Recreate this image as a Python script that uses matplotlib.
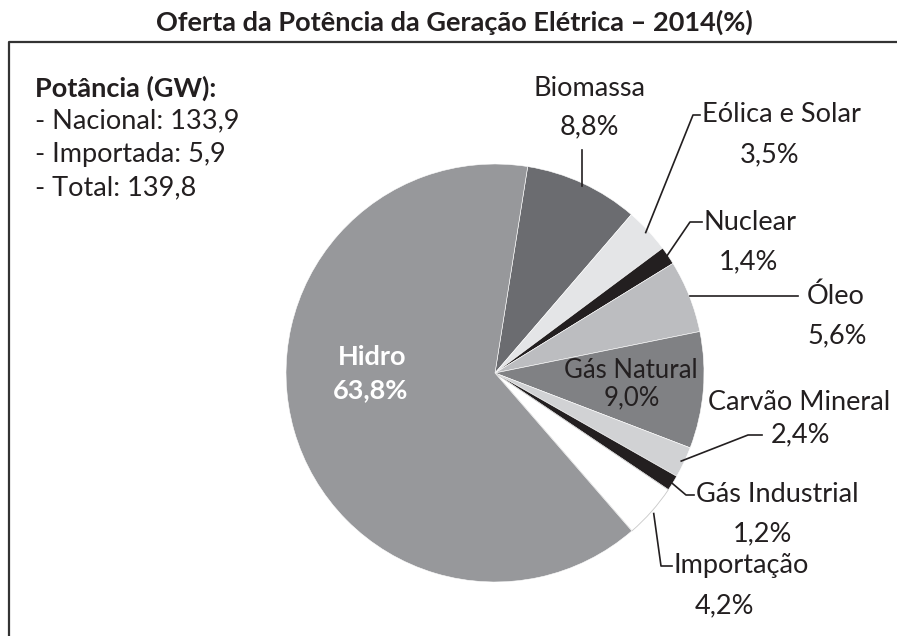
import matplotlib.pyplot as plt
import numpy as np

# data (percent of generation capacity, 2014)
fontes = ["Biomassa", "Eólica e Solar", "Nuclear", "Óleo", "Gás Natural",
          "Carvão Mineral", "Gás Industrial", "Importação", "Hidro"]
valores = [8.8, 3.5, 1.4, 5.6, 9.0, 2.4, 1.2, 4.2, 63.8]
rotulos = ["8,8%", "3,5%", "1,4%", "5,6%", "9,0%", "2,4%", "1,2%", "4,2%", "63,8%"]
cores = ["#6b6c70", "#e4e5e7", "#231f20", "#bcbdc0", "#808184",
         "#d1d2d4", "#231f20", "#ffffff", "#97989b"]

titulo = "Oferta da Potência da Geração Elétrica – 2014(%)"
info_titulo = "Potância (GW):"
info_linhas = ["- Nacional: 133,9", "- Importada: 5,9", "- Total: 139,8"]

W, H = 897, 636
FONT = "Lato"


def py(y):
    # pixel row (top-down) -> data y
    return H - y


fig = plt.figure(figsize=(W / 100, H / 100), dpi=100)
ax = fig.add_axes([0, 0, 1, 1])

cx, cy, R = 495, py(373), 209
start = 81
wedges, _ = ax.pie(valores, colors=cores, startangle=start, counterclock=False,
                   center=(cx, cy), radius=R, frame=True,
                   wedgeprops=dict(linewidth=0.4, edgecolor="white"))
wedges[7].set_edgecolor("#c8c8c8")
wedges[7].set_linewidth(0.6)
ax.set_xlim(0, W)
ax.set_ylim(0, H)
ax.set_aspect("equal")
ax.axis("off")

# mid angle of each wedge on the rim
total = sum(valores)
cum = np.cumsum([0] + valores)
mids = [start - 360 * (cum[i] + cum[i + 1]) / 2 / total for i in range(len(valores))]


def rim(i, r=R):
    a = np.deg2rad(mids[i])
    return cx + r * np.cos(a), cy + r * np.sin(a)


fs = 19.5
txt = dict(fontsize=fs, family=FONT, color="#231f20")
lc = dict(color="#231f20", lw=1.2)


def label(x, y, s, ha="center", **kw):
    opts = dict(txt)
    opts.update(kw)
    ax.text(x, py(y), s, ha=ha, va="center", **opts)


# Biomassa
x0, y0 = rim(0, R - 3)
ax.plot([x0, x0], [y0, py(150)], **lc)
label(589, 89, fontes[0])
label(589, 127, rotulos[0])

# Eólica e Solar
x0, y0 = rim(1, R - 3)
ax.plot([x0, 693, 700], [y0, py(115), py(115)], **lc)
label(702, 115, fontes[1], ha="left")
label(770, 155, rotulos[1])

# Nuclear
x0, y0 = rim(2, R - 2)
ax.plot([x0, 690, 702], [y0, py(222), py(222)], **lc)
label(703, 222, fontes[2], ha="left")
label(748, 262, rotulos[2])

# Óleo
x0, y0 = rim(3, R + 1)
ax.plot([x0, 798], [y0, y0], **lc)
label(807, py(y0), fontes[3], ha="left")
label(837, 336, rotulos[3])

# Gás Natural (inside)
label(631, 371, fontes[4], fontsize=18.5)
label(632, 398, rotulos[4], fontsize=18.5)

# Carvão Mineral
x0, y0 = rim(5, R - 3)
ax.plot([x0, 748, 762], [y0, py(435), py(435)], **lc)
label(799, 402, fontes[5])
label(800, 435, rotulos[5])

# Gás Industrial
x0, y0 = rim(6, R - 3)
ax.plot([x0, 686, 694], [y0, py(495), py(495)], **lc)
label(696, 495, fontes[6], ha="left")
label(762, 534, rotulos[6])

# Importação
x0, y0 = rim(7, R + 3)
ax.plot([x0, 661, 672], [y0, py(566), py(566)], **lc)
label(674, 566, fontes[7], ha="left")
label(724, 606, rotulos[7])

# Hidro (inside, white)
label(372, 357, fontes[8], color="white", fontweight="bold")
label(371, 390, rotulos[8], color="white", fontweight="bold")

# info block
label(35, 88, info_titulo, ha="left", fontweight="bold")
for k, linha in enumerate(info_linhas):
    label(35, 121 + 33.5 * k, linha, ha="left")

# title and frame
label(W / 2 + 6, 22, titulo, fontweight="bold")
ax.plot([9, 9, W + 5], [-5, py(42), py(42)], color="#333333", lw=1.6,
        clip_on=False)

fig.savefig("out.png", dpi=100)
